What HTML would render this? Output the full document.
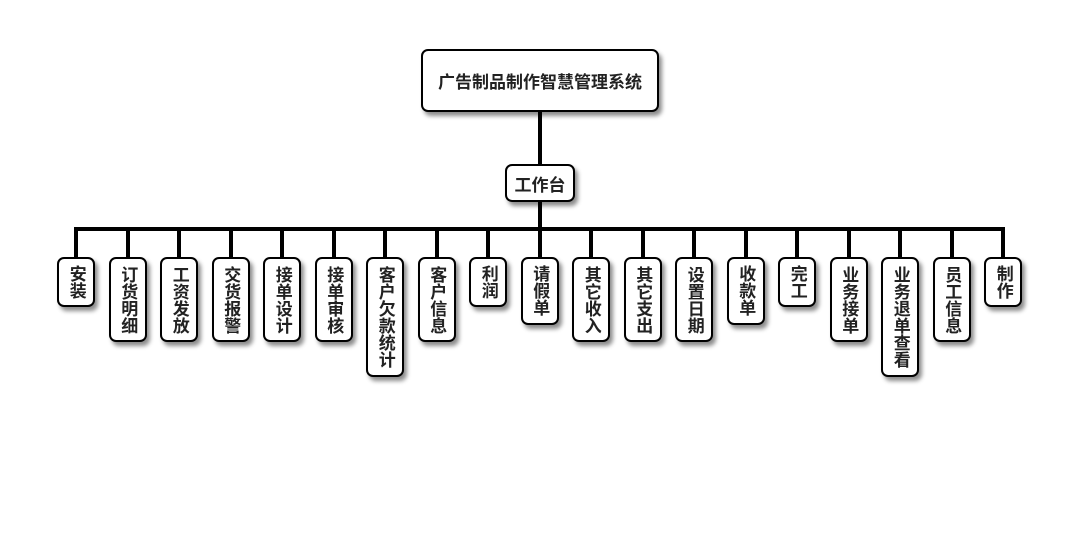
<!DOCTYPE html>
<html><head><meta charset="utf-8"><style>
body{margin:0;width:1080px;height:560px;background:#fff;position:relative;overflow:hidden;font-family:"Liberation Sans","Noto Sans CJK SC",sans-serif;font-weight:bold;color:#222}
.b{position:absolute;background:#fff;border:2px solid #000;border-radius:7px;box-shadow:3px 4px 4px rgba(0,0,0,.45);box-sizing:border-box;display:flex;align-items:center;justify-content:center;text-align:center}
.v{width:38px;font-size:17px;line-height:17.5px;writing-mode:vertical-rl;top:257px}
.l{position:absolute;background:#000}
</style></head><body>
<div class="l" style="left:538px;top:110px;width:4px;height:56px"></div>
<div class="l" style="left:538px;top:200px;width:4px;height:30px"></div>
<div class="l" style="left:74px;top:227px;width:931px;height:4px"></div>
<div class="b" style="left:421px;top:49px;width:238px;height:63px;font-size:17px">广告制品制作智慧管理系统</div>
<div class="b" style="left:505px;top:164px;width:70px;height:38px;font-size:17px">工作台</div>
<div id="c"></div>
<script>
var t=["安装","订货明细","工资发放","交货报警","接单设计","接单审核","客户欠款统计","客户信息","利润","请假单","其它收入","其它支出","设置日期","收款单","完工","业务接单","业务退单查看","员工信息","制作"];
var h="";
t.forEach(function(s,i){var x=57+i*51.5;var n=s.length;var hh=15+n*17.5;
h+='<div class="l" style="left:'+(x+17)+'px;top:229px;width:4px;height:29px"></div>';
h+='<div class="b v" style="left:'+x+'px;height:'+hh+'px">'+s+'</div>';});
document.getElementById("c").innerHTML=h;
</script>
</body></html>
